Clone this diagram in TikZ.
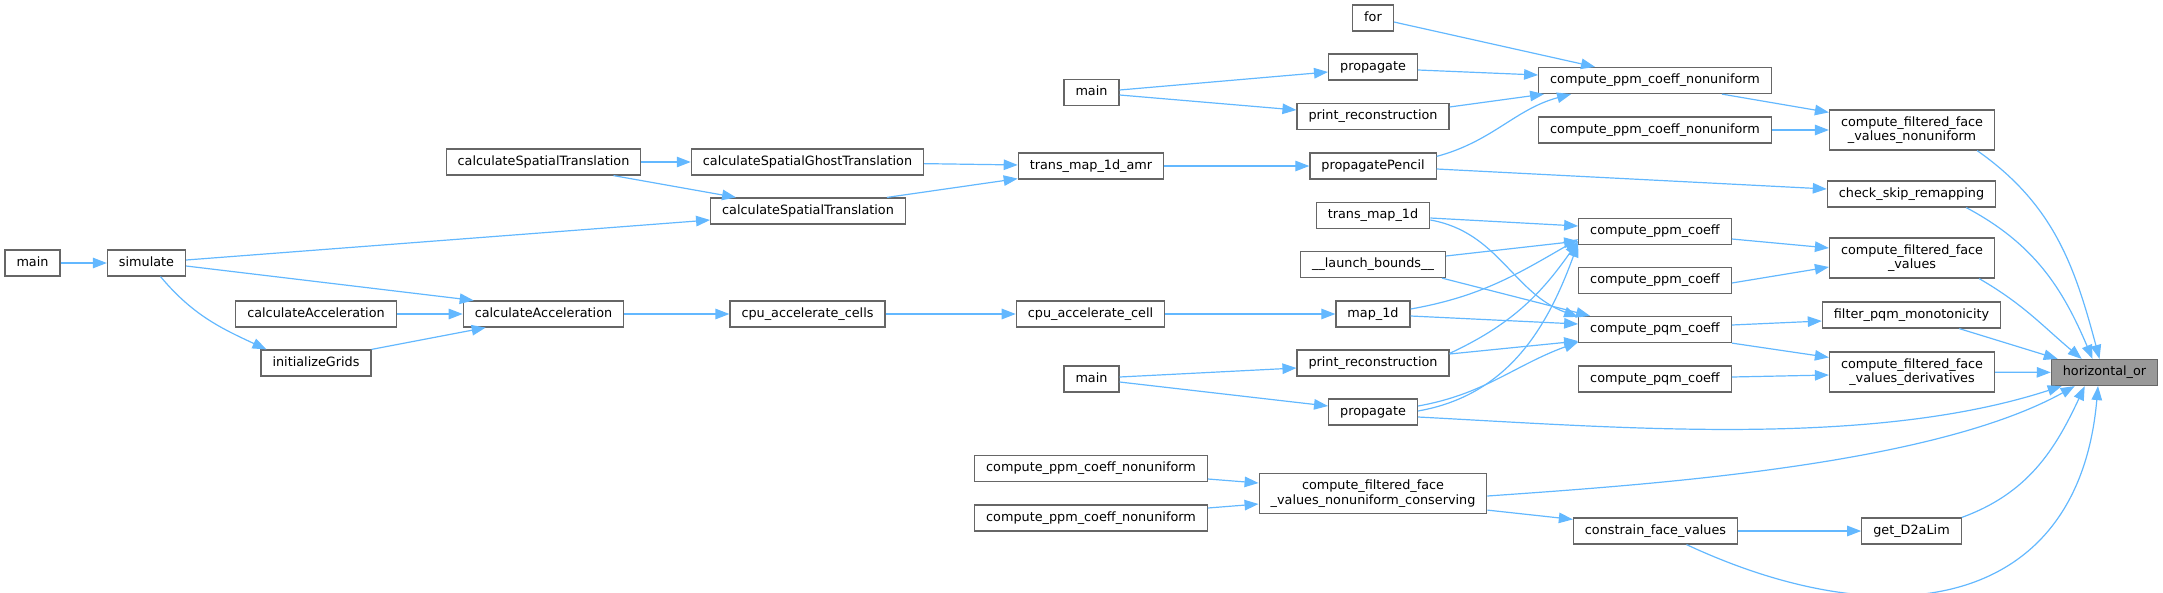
\documentclass[tikz,border=0pt]{standalone}
\usepackage{fontspec}
\setmainfont{DejaVu Sans}
\usetikzlibrary{arrows.meta}
\definecolor{edgeblue}{HTML}{63B8FF}
\definecolor{boxgray}{HTML}{666666}
\definecolor{hitgray}{HTML}{999999}
\begin{document}
\begin{tikzpicture}[x=1pt, y=-1pt,
    fn/.style={draw=boxgray, fill=white, line width=1.2pt, font=\fontsize{12.8}{14.7}\selectfont,
        inner xsep=11.5pt, inner ysep=0pt, minimum height=26pt, text height=9.5pt, text depth=3pt},
    fntwo/.style={draw=boxgray, fill=white, line width=1.2pt, font=\fontsize{12.8}{14.7}\selectfont,
        inner xsep=11.5pt, inner ysep=0pt, minimum height=40pt, align=center},
    hit/.style={fn, fill=hitgray},
    call/.style={draw=edgeblue, line width=1.2pt, -{Triangle[length=14pt, width=10.5pt]}}]
    \useasboundingbox (0,0) rectangle (2163,592);
    % Draw callers, left part
    \node[fn] (mainA) at (32.5,263) {main};
    \node[fn] (simulate) at (146.5,263) {simulate};
    \node[fn] (cstA) at (543.5,162) {calculateSpatialTranslation};
    \node[fn] (csgt) at (807.5,162) {calculateSpatialGhostTranslation};
    \node[fn] (cstB) at (808,211) {calculateSpatialTranslation};
    \node[fn] (caL) at (316,314) {calculateAcceleration};
    \node[fn] (caM) at (543.5,314) {calculateAcceleration};
    \node[fn] (initGrids) at (316,363) {initializeGrids};
    \node[fn] (cpuCells) at (807.5,314) {cpu\_accelerate\_cells};
    \node[fn] (tm1damr) at (1091,166) {trans\_map\_1d\_amr};
    \node[fn] (mainB) at (1091.5,92.5) {main};
    \node[fn] (cpuCell) at (1090.5,314) {cpu\_accelerate\_cell};
    \node[fn] (mainC) at (1091.5,379) {main};
    \node[fn] (cpcnC) at (1091,468.5) {compute\_ppm\_coeff\_nonuniform};
    \node[fn] (cpcnD) at (1091,518) {compute\_ppm\_coeff\_nonuniform};
    % Draw callers, middle column
    \node[fn] (forloop) at (1373,18) {for};
    \node[fn] (prop1) at (1373,67) {propagate};
    \node[fn] (print1) at (1373,116.5) {print\_reconstruction};
    \node[fn] (pencil) at (1373,166) {propagatePencil};
    \node[fn] (tm1d) at (1373,215.5) {trans\_map\_1d};
    \node[fn] (launch) at (1373,264.5) {\_\_launch\_bounds\_\_};
    \node[fn] (map1d) at (1373,314) {map\_1d};
    \node[fn] (print2) at (1373,363) {print\_reconstruction};
    \node[fn] (prop2) at (1373,412) {propagate};
    \node[fntwo] (cffvnc) at (1373,493.5) {compute\_filtered\_face\\\_values\_nonuniform\_conserving};
    % Draw coefficient functions
    \node[fn] (cpcnA) at (1655,80.5) {compute\_ppm\_coeff\_nonuniform};
    \node[fn] (cpcnB) at (1655,130) {compute\_ppm\_coeff\_nonuniform};
    \node[fn] (cppcA) at (1655,231.5) {compute\_ppm\_coeff};
    \node[fn] (cppcB) at (1655,280.5) {compute\_ppm\_coeff};
    \node[fn] (cpqcA) at (1655,329.5) {compute\_pqm\_coeff};
    \node[fn] (cpqcB) at (1655,379) {compute\_pqm\_coeff};
    \node[fn] (cfv) at (1655.5,531) {constrain\_face\_values};
    % Draw direct callers of the target
    \node[fntwo] (cffvn) at (1912,130) {compute\_filtered\_face\\\_values\_nonuniform};
    \node[fn] (csr) at (1911.5,194) {check\_skip\_remapping};
    \node[fntwo] (cffv) at (1912,258) {compute\_filtered\_face\\\_values};
    \node[fn] (fpm) at (1911.5,315) {filter\_pqm\_monotonicity};
    \node[fntwo] (cffvd) at (1912,372) {compute\_filtered\_face\\\_values\_derivatives};
    \node[fn] (d2a) at (1911.5,531) {get\_D2aLim};
    \node[hit] (hor) at (2104.5,372.5) {horizontal\_or};
    % Calls, left part
    \draw[call] (mainA) -- (simulate);
    \draw[call] ([yshift=3pt]simulate.east) -- ([yshift=-9pt]cstB.west);
    \draw[call] ([yshift=-3pt]simulate.east) -- ([xshift=11pt]caM.north west);
    \draw[call] ([xshift=14pt]simulate.south) to[out=-50,in=155] ([xshift=6pt]initGrids.north west);
    \draw[call] (cstA) -- (csgt);
    \draw[call] ([xshift=70pt]cstA.south) -- ([xshift=26pt]cstB.north west);
    \draw[call] (csgt) -- (tm1damr);
    \draw[call] ([xshift=-19pt]cstB.north east) -- ([yshift=1pt]tm1damr.south west);
    \draw[call] (tm1damr) -- (pencil);
    \draw[call] (caL) -- (caM);
    \draw[call] (initGrids.north east) -- ([xshift=23pt]caM.south west);
    \draw[call] (caM) -- (cpuCells);
    \draw[call] (cpuCells) -- (cpuCell);
    \draw[call] (cpuCell) -- (map1d);
    \draw[call] ([yshift=2.5pt]mainB.east) -- ([yshift=-5pt]prop1.west);
    \draw[call] ([yshift=-2.5pt]mainB.east) -- ([yshift=6.5pt]print1.west);
    \draw[call] ([yshift=2pt]mainC.east) -- ([yshift=-5pt]print2.west);
    \draw[call] ([yshift=-3pt]mainC.east) -- ([yshift=6pt]prop2.west);
    \draw[call] ([yshift=-10.5pt]cpcnC.east) -- ([yshift=10.5pt]cffvnc.west);
    \draw[call] ([yshift=10pt]cpcnD.east) -- ([yshift=-10.5pt]cffvnc.west);
    % Calls, middle part
    \draw[call] ([yshift=-4pt]forloop.east) -- ([xshift=-60pt]cpcnA.north);
    \draw[call] ([yshift=-3pt]prop1.east) -- ([yshift=5.5pt]cpcnA.west);
    \draw[call] ([yshift=9.5pt]print1.east) -- ([xshift=6pt]cpcnA.south west);
    \draw[call] ([yshift=-4pt]pencil.north east) to[out=15,in=-165] ([xshift=33pt]cpcnA.south west);
    \draw[call] ([yshift=-3pt]pencil.east) -- ([yshift=5pt]csr.west);
    \draw[call] ([yshift=-2.5pt]tm1d.east) -- ([yshift=5.5pt]cppcA.west);
    \draw[call] ([yshift=-4.5pt]tm1d.east) to[out=-10,in=160] ([yshift=-1pt]cpqcA.north west);
    \draw[call] ([yshift=8.5pt]launch.east) -- ([yshift=4pt]cppcA.south west);
    \draw[call] ([xshift=-4pt]launch.south east) -- ([xshift=12pt]cpqcA.north west);
    \draw[call] ([yshift=5pt]map1d.east) to[out=10,in=-150] ([yshift=6pt]cppcA.south west);
    \draw[call] ([yshift=-2pt]map1d.east) -- ([yshift=5.5pt]cpqcA.west);
    \draw[call] ([yshift=-4pt]print2.north east) to[out=25,in=-125] ([yshift=4pt]cppcA.south west);
    \draw[call] ([yshift=9pt]print2.east) -- ([yshift=2pt]cpqcA.south west);
    \draw[call] ([yshift=1pt]prop2.east) to[out=10,in=-110] ([yshift=2pt]cppcA.south west);
    \draw[call] ([yshift=6pt]prop2.east) to[out=10,in=-160] ([yshift=1pt]cpqcA.south west);
    \draw[call] ([yshift=4pt]cffvnc.south east) -- ([yshift=-2pt]cfv.north west);
    % Calls, right part
    \draw[call] ([xshift=-50pt]cpcnA.south east) -- ([yshift=-3pt]cffvn.north west);
    \draw[call] (cpcnB) -- (cffvn);
    \draw[call] ([yshift=-7.5pt]cppcA.east) -- ([yshift=10pt]cffv.west);
    \draw[call] ([yshift=-2.5pt]cppcB.east) -- ([yshift=-9pt]cffv.west);
    \draw[call] ([yshift=4.5pt]cpqcA.east) -- ([yshift=-6pt]fpm.west);
    \draw[call] (cpqcA.south east) -- ([yshift=-6pt]cffvd.north west);
    \draw[call] ([yshift=2pt]cpqcB.east) -- ([yshift=-3pt]cffvd.west);
    \draw[call] (cfv) -- (d2a);
    % Calls into the target
    \draw[call] ([xshift=-18pt]cffvn.south east) to[out=-35,in=105] ([xshift=-5pt]hor.north);
    \draw[call] ([xshift=-30pt]csr.south east) to[out=-28,in=113] ([xshift=-12pt]hor.north);
    \draw[call] ([xshift=-16pt]cffv.south east) to[out=-30,in=140] ([xshift=31pt]hor.north west);
    \draw[call] ([xshift=-42pt]fpm.south east) -- ([xshift=7pt]hor.north west);
    \draw[call] (cffvd) -- (hor);
    \draw[call] ([yshift=-5pt]prop2.east) to[out=-3,in=-162,looseness=0.8] ([xshift=11pt]hor.south west);
    \draw[call] ([yshift=-2.5pt]cffvnc.east) to[out=4,in=-151,looseness=0.7] ([xshift=24pt]hor.south west);
    \draw[call] (d2a.north east) to[out=20,in=-115] ([xshift=34pt]hor.south west);
    \draw[call] ([xshift=31pt]cfv.south) to[out=-25,in=-95,looseness=1.3] ([xshift=-6.5pt]hor.south);
\end{tikzpicture}
\end{document}
